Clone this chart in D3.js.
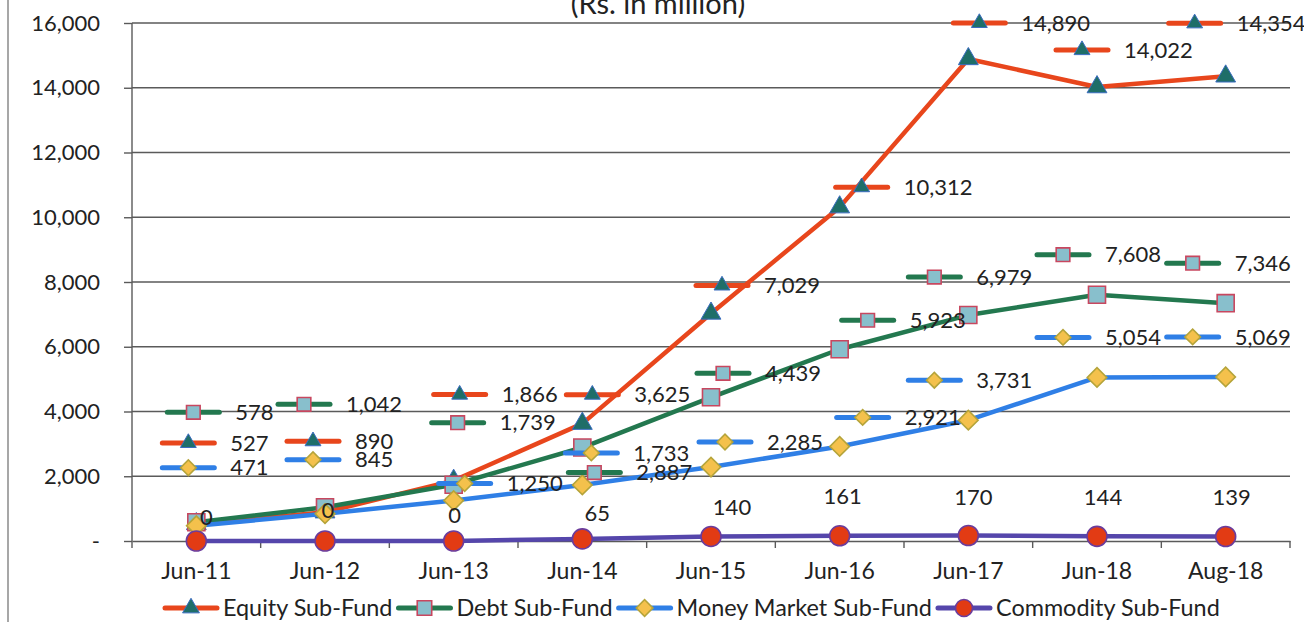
<!DOCTYPE html>
<html>
<head>
<meta charset="utf-8">
<script src="https://cdnjs.cloudflare.com/ajax/libs/d3/7.8.5/d3.min.js"></script>
<style>
  body { margin: 0; background: #fff; }
  svg { display: block; font-family: Lato, "Open Sans", sans-serif; }
</style>
</head>
<body>
<div id="chart"></div>
<script>
// values (Rs. in million)
var categories = ["Jun-11", "Jun-12", "Jun-13", "Jun-14", "Jun-15", "Jun-16", "Jun-17", "Jun-18", "Aug-18"];
var equity = [527, 890, 1866, 3625, 7029, 10312, 14890, 14022, 14354];
var debt = [578, 1042, 1739, 2887, 4439, 5923, 6979, 7608, 7346];
var moneyMarket = [471, 845, 1250, 1733, 2285, 2921, 3731, 5054, 5069];
var commodity = [0, 0, 0, 65, 140, 161, 170, 144, 139];
var seriesNames = ["Equity Sub-Fund", "Debt Sub-Fund", "Money Market Sub-Fund", "Commodity Sub-Fund"];
var yTicks = [0, 2000, 4000, 6000, 8000, 10000, 12000, 14000, 16000];
var title = "(Rs. in million)";

// label placement, pixels relative to each point (hand-moved labels in the original)
var labelShift = [
  [[-8, -81], [-12, -71], [6, -86], [10, -29], [11, -28], [22, -20], [11, -36], [-15, -37], [-31, -53]],
  [[-3, -110], [-21, -103], [4, -62], [12, 25], [12, -24], [28, -29], [-34, -38], [-34, -40], [-33, -40]],
  [[-8, -58], [-12, -54], [11, -17], [9, -32], [14, -25], [23, -29], [-34, -40], [-34, -40], [-33, -40]],
  [[10, -24], [3, -31], [1, -26], [15, -26], [21, -29], [3, -39], [5, -38], [6, -39], [6, -39]]
];

var W = 1304, H = 622;
var margin = {top: 23, right: 14, bottom: 81, left: 132};
var fontSize = "22px";

var styles = [
  {line: "#e8461c", fill: "#1f6e68", edge: "#3a6cc0", shape: "triangle"},
  {line: "#23784f", fill: "#88bfcc", edge: "#c8475f", shape: "square"},
  {line: "#2f7fe6", fill: "#f4c14c", edge: "#b5a43a", shape: "diamond"},
  {line: "#5546ab", fill: "#e23b14", edge: "#6b3c9c", shape: "circle"}
];

var seriesData = [equity, debt, moneyMarket, commodity];

var svg = d3.select("#chart").append("svg")
  .attr("width", W)
  .attr("height", H);

var x = d3.scaleBand().domain(categories).range([margin.left, W - margin.right]).padding(0);
var y = d3.scaleLinear().domain([0, 16000]).range([H - margin.bottom, margin.top]);
var cx = function (c) { return x(c) + x.bandwidth() / 2; };

// scan frame line on the left
svg.append("line").attr("x1", 8).attr("x2", 8).attr("y1", 0).attr("y2", H)
  .attr("stroke", "#8a8a8a").attr("stroke-width", 1.5);

// title sits partly above the top edge, as in the scan
svg.append("text")
  .attr("x", 658).attr("y", 14)
  .attr("text-anchor", "middle")
  .style("font-size", "29px").style("fill", "#222")
  .text(title);

// gridlines
svg.append("g").selectAll("line").data(yTicks.slice(1)).enter().append("line")
  .attr("x1", margin.left).attr("x2", W - margin.right)
  .attr("y1", function (d) { return y(d); }).attr("y2", function (d) { return y(d); })
  .attr("stroke", "#5a5a5a").attr("stroke-width", 1.4);

// y axis
var yAxis = d3.axisLeft(y).tickValues(yTicks).tickSize(8).tickPadding(24)
  .tickFormat(function (d) { return d === 0 ? "-" : d3.format(",")(d); });
var gy = svg.append("g").attr("transform", "translate(" + margin.left + ",0)").call(yAxis);
gy.select(".domain").attr("d", "M0," + (y(16000)) + "V" + (y(0) + 7)).attr("stroke", "#5a5a5a").attr("stroke-width", 1.4);
gy.selectAll(".tick line").attr("stroke", "#5a5a5a").attr("stroke-width", 1.4);
gy.selectAll(".tick text").style("font-size", fontSize).style("fill", "#222").style("font-family", "Lato, sans-serif");

// x axis: ticks between categories, labels at centres
var xAxis = d3.axisBottom(x).tickSize(0).tickPadding(22);
var gx = svg.append("g").attr("transform", "translate(0," + y(0) + ")").call(xAxis);
gx.select(".domain").attr("stroke", "#5a5a5a").attr("stroke-width", 1.4);
gx.selectAll(".tick text").style("font-size", "23px").style("fill", "#222").style("font-family", "Lato, sans-serif");
gx.selectAll(".bound").data(categories.slice(1).concat(["end"])).enter().append("line")
  .attr("class", "bound")
  .attr("x1", function (d) { return d === "end" ? W - margin.right : x(d); })
  .attr("x2", function (d) { return d === "end" ? W - margin.right : x(d); })
  .attr("y1", 0).attr("y2", 7)
  .attr("stroke", "#5a5a5a").attr("stroke-width", 1.4);

function marker(g, st, px, py, k) {
  var s;
  if (st.shape === "triangle") {
    s = g.append("path").attr("d", d3.symbol(d3.symbolTriangle, 170 * k * k)());
  } else if (st.shape === "square") {
    s = g.append("path").attr("d", d3.symbol(d3.symbolSquare, 290 * k * k)());
  } else if (st.shape === "diamond") {
    s = g.append("path").attr("d", d3.symbol(d3.symbolSquare, 190 * k * k)())
      .attr("transform", "translate(" + px + "," + py + ") rotate(45)");
  } else {
    s = g.append("circle").attr("r", 10 * k);
  }
  if (st.shape === "circle") s.attr("cx", px).attr("cy", py);
  else if (st.shape !== "diamond") s.attr("transform", "translate(" + px + "," + py + ")");
  s.attr("fill", st.fill).attr("stroke", st.edge).attr("stroke-width", st.shape === "triangle" ? 1 : 1.6);
  return s;
}

function legendKey(g, st, mx, my, k) {
  g.append("line").attr("x1", mx - 26).attr("x2", mx + 26).attr("y1", my).attr("y2", my)
    .attr("stroke", st.line).attr("stroke-width", 5).attr("stroke-linecap", "round");
  marker(g, st, mx, my, k);
}

var line = d3.line()
  .x(function (d, i) { return cx(categories[i]); })
  .y(function (d) { return y(d); });

// series lines and markers
seriesData.forEach(function (vals, si) {
  var st = styles[si];
  var g = svg.append("g");
  g.append("path").datum(vals).attr("d", line)
    .attr("fill", "none").attr("stroke", st.line).attr("stroke-width", 4.5)
    .attr("stroke-linejoin", "round");
  vals.forEach(function (v, i) {
    marker(g, st, cx(categories[i]), y(v), 1);
  });
});

// data labels (with legend key, like the original)
var fmt = d3.format(",");
seriesData.forEach(function (vals, si) {
  var st = styles[si];
  var g = svg.append("g");
  vals.forEach(function (v, i) {
    var px = cx(categories[i]) + labelShift[si][i][0];
    var py = y(v) + labelShift[si][i][1];
    if (si === 3) {
      g.append("text").attr("x", px).attr("y", py).attr("dy", "0.35em")
        .attr("text-anchor", "middle")
        .style("font-size", fontSize).style("fill", "#222").text(fmt(v));
      return;
    }
    legendKey(g, st, px, py, 0.8);
    g.append("text").attr("x", px + 42).attr("y", py).attr("dy", "0.35em")
      .style("font-size", fontSize).style("fill", "#222").text(fmt(v));
  });
});

// legend
var lg = svg.append("g").attr("transform", "translate(0,608)");
var lx = 165;
seriesNames.forEach(function (name, si) {
  legendKey(lg, styles[si], lx + 26, 0, 0.85);
  var t = lg.append("text").attr("x", lx + 58).attr("y", 0).attr("dy", "0.35em")
    .style("font-size", "23.4px").style("fill", "#222").text(name);
  lx += 58 + t.node().getComputedTextLength() + 6;
});
</script>
</body>
</html>
